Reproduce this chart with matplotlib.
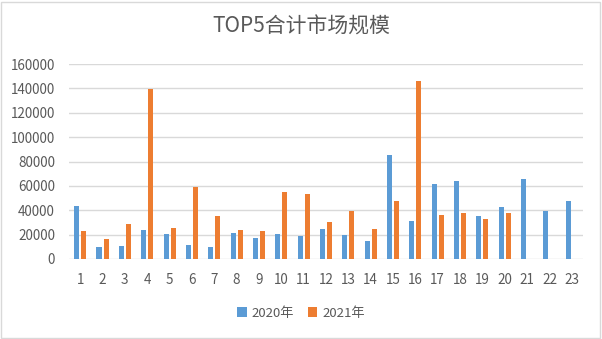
import numpy as np
import matplotlib
matplotlib.use("Agg")
import matplotlib.pyplot as plt
from matplotlib.patches import Rectangle

plt.rcParams["font.family"] = ["Noto Sans CJK SC", "DejaVu Sans"]

categories = [str(i) for i in range(1, 24)]
sales_2020 = [43600, 9900, 10700, 23800, 20800, 11500, 9900, 21400, 17300, 20500,
              18900, 24700, 19700, 14800, 85500, 31200, 61600, 64100, 35300, 42700,
              65800, 39500, 47700]
sales_2021 = [23000, 16400, 28800, 139500, 25500, 59200, 35300, 23800, 23000, 55100,
              53400, 30400, 39500, 24700, 47700, 146300, 36200, 37800, 32900, 37800,
              0, 0, 0]
series_names = ["2020年", "2021年"]
y_ticks = [0, 20000, 40000, 60000, 80000, 100000, 120000, 140000, 160000]

BLUE = "#5B9BD5"
ORANGE = "#ED7D31"
TEXT = "#595959"
GRID = "#D9D9D9"


def create_plot():
    fig = plt.figure(figsize=(6.02, 3.39), dpi=100)
    ax = fig.add_axes([69 / 602, 1 - 259 / 339, (583 - 69) / 602, (259 - 64) / 339])

    x = np.arange(len(categories))
    w = 0.225
    off = 0.157
    ax.bar(x - off, sales_2020, width=w, color=BLUE, label=series_names[0], zorder=3)
    ax.bar(x + off, sales_2021, width=w, color=ORANGE, label=series_names[1], zorder=3)

    ax.set_xlim(-0.5, len(categories) - 0.5)
    ax.set_ylim(0, 160000)
    ax.set_yticks(y_ticks)
    ax.set_yticklabels([str(v) for v in y_ticks])
    ax.set_xticks(x)
    ax.set_xticklabels(categories)
    ax.grid(axis="y", color=GRID, linewidth=1, zorder=0)
    for s in ax.spines.values():
        s.set_visible(False)
    ax.tick_params(axis="both", length=0, colors=TEXT, labelsize=9.7)
    ax.tick_params(axis="x", pad=10)
    ax.tick_params(axis="y", pad=10)

    fig.text(0.5, 1 - 27 / 339, "TOP5合计市场规模", ha="center", va="center",
             fontsize=15, color=TEXT)

    fig.legend(loc="center", bbox_to_anchor=(0.5, 1 - 313 / 339), ncol=2,
               frameon=False, fontsize=9.5, labelcolor=TEXT,
               handlelength=0.7, handleheight=0.7, handletextpad=0.4,
               columnspacing=1.0)

    fig.patches.append(Rectangle((1 / 602, 1 / 339), 599 / 602, 336 / 339,
                                 transform=fig.transFigure, fill=False,
                                 edgecolor=GRID, linewidth=1))
    fig.savefig("out.png", dpi=100)


if __name__ == "__main__":
    create_plot()
